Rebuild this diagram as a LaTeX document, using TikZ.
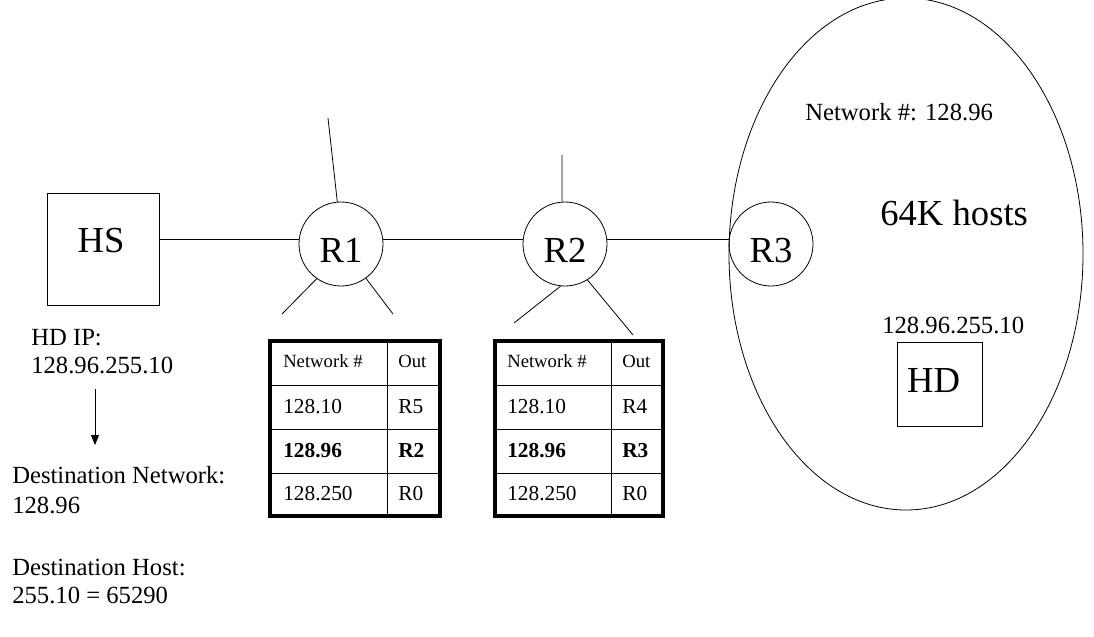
\documentclass[tikz,border=0pt]{standalone}
\usepackage{fontspec}
\setmainfont{Liberation Serif}
\usetikzlibrary{arrows.meta}
\begin{document}
\begin{tikzpicture}[x=0.75pt,y=-0.75pt,
  ln/.style={line width=0.6pt},
  router/.style={circle,draw,line width=0.6pt,minimum size=63pt,inner sep=0pt,
    font=\fontsize{27.5}{32}\selectfont,text height=27pt,text depth=0pt},
  hsbox/.style={rectangle,draw,line width=0.6pt,minimum width=84pt,minimum height=84pt,inner sep=0pt,
    font=\fontsize{27.5}{32}\selectfont,text height=18pt,text depth=13.5pt},
  hdbox/.style={rectangle,draw,line width=0.6pt,minimum width=63.75pt,minimum height=63pt,inner sep=0pt,
    font=\fontsize{27.5}{32}\selectfont,text height=18pt,text depth=6pt},
  lbl/.style={anchor=base west,inner sep=0pt,font=\fontsize{18.5}{21}\selectfont},
  big/.style={anchor=base west,inner sep=0pt,font=\fontsize{27.5}{32}\selectfont},
  cellh/.style={anchor=base west,inner sep=0pt,font=\fontsize{14}{17}\selectfont},
  cell/.style={anchor=base west,inner sep=0pt,font=\fontsize{16}{19}\selectfont},
  cellb/.style={anchor=base west,inner sep=0pt,font=\fontsize{16}{19}\selectfont\bfseries},
  tborder/.style={line width=2.3pt},
  tline/.style={line width=0.6pt}
]
\useasboundingbox (0,0) rectangle (1094,636);
\clip (0,0) rectangle (1094,636);

% network ellipse
\draw[ln] (906,254) ellipse [x radius=132.75pt, y radius=192pt];

% nodes
\node[hsbox] (HS) at (103,249) {\hspace*{-3pt}HS};
\node[router] (R1) at (341,244) {R1};
\node[router] (R2) at (565,244) {R2};
\node[router] (R3) at (771,244) {R3};
\node[hdbox] (HD) at (939.5,384) {HD\hspace*{9pt}};

% backbone
\coordinate (bus) at (0,239);
\draw[ln] (HS.east |- bus) -- (R1.west |- bus);
\draw[ln] (R1.east |- bus) -- (R2.west |- bus);
\draw[ln] (R2.east |- bus) -- (R3.west |- bus);

% spokes
\coordinate (r1t) at (328,118);
\coordinate (r1l) at (282,314);
\coordinate (r1r) at (393,314);
\draw[ln] (R1.95.4) -- (r1t);
\draw[ln] (R1.235.6) -- (r1l);
\draw[ln] (R1.306.6) -- (r1r);
\coordinate (r2t) at (562,155);
\coordinate (r2l) at (514,323);
\coordinate (r2r) at (633,335);
\draw[ln] (R2.94) -- (r2t);
\draw[ln] (R2.264) -- (r2l);
\draw[ln] (R2.302.6) -- (r2r);

% texts in network
\node[lbl] (netnum) at (805,120) {Network \#: 128.96};
\node[big] (hosts) at (880,225) {64K hosts};
\node[lbl] (hdip) at (882,333) {128.96.255.10};

% left texts
\node[lbl] (ipl) at (31,345) {HD IP:};
\node[lbl] (ipv) at (31,373) {128.96.255.10};
\coordinate (arS) at (95,389);
\coordinate (arE) at (95,445);
\draw[ln,-{Triangle[length=7.5pt,width=6pt]}] (arS) -- (arE);
\node[lbl] (dnl) at (12,483) {Destination Network:};
\node[lbl] (dnv) at (12,513) {128.96};
\node[lbl] (dhl) at (12,575) {Destination Host:};
\node[lbl] (dhv) at (12,603) {255.10 = 65290};

% table 1
\draw[tline] (387,341) -- (387,516);
\foreach \yy in {385,429,473} \draw[tline] (270,\yy) -- (440,\yy);
\draw[tborder] (270,341) rectangle (440,516);
\node[cellh] (a00) at (283,367) {Network \#};
\node[cellh] (a01) at (398,367) {Out};
\node[cell] (a10) at (283,413) {128.10};
\node[cell] (a11) at (398,413) {R5};
\node[cellb] (a20) at (283,457) {128.96};
\node[cellb] (a21) at (398,457) {R2};
\node[cell] (a30) at (283,500) {128.250};
\node[cell] (a31) at (398,500) {R0};

% table 2
\draw[tline] (611,341) -- (611,516);
\foreach \yy in {385,429,473} \draw[tline] (495,\yy) -- (663,\yy);
\draw[tborder] (495,341) rectangle (663,516);
\node[cellh] (b00) at (507,367) {Network \#};
\node[cellh] (b01) at (622,367) {Out};
\node[cell] (b10) at (507,413) {128.10};
\node[cell] (b11) at (622,413) {R4};
\node[cellb] (b20) at (507,457) {128.96};
\node[cellb] (b21) at (622,457) {R3};
\node[cell] (b30) at (507,500) {128.250};
\node[cell] (b31) at (622,500) {R0};
\end{tikzpicture}
\end{document}
